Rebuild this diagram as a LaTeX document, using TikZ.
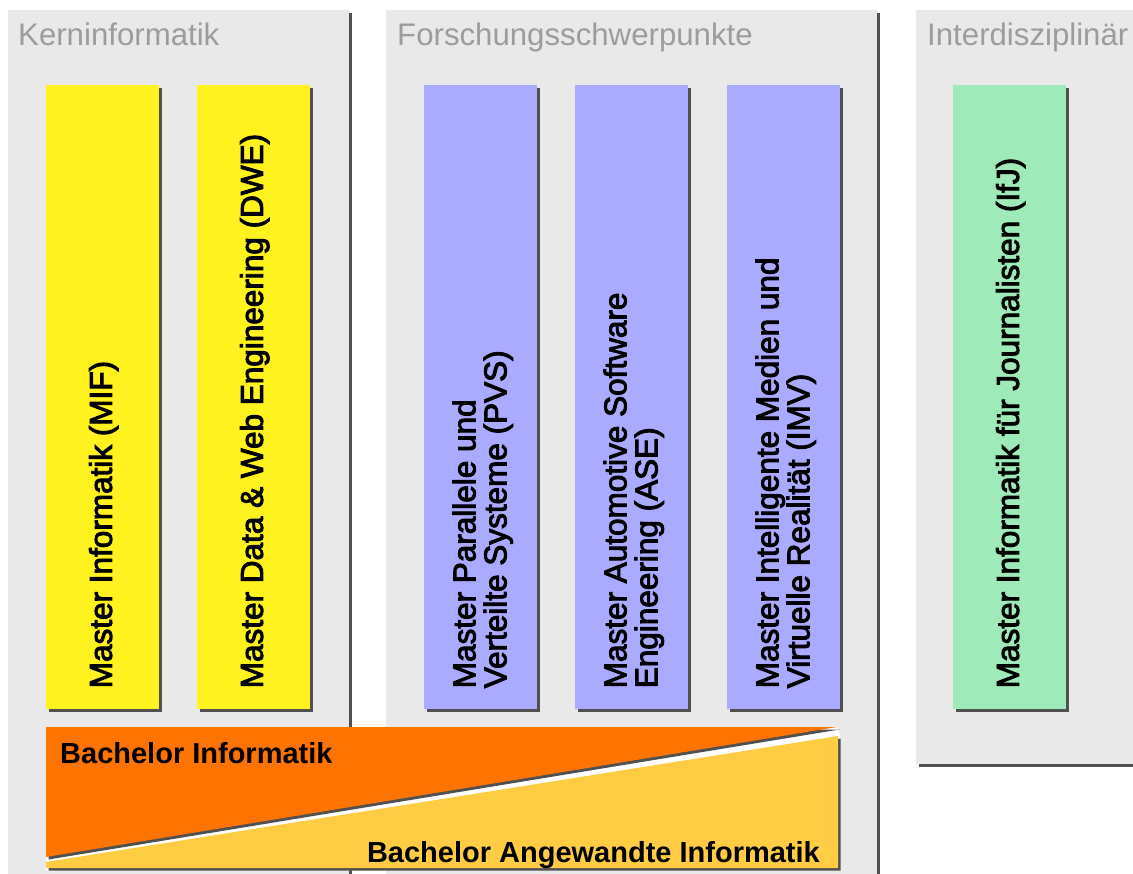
\documentclass[tikz,border=0pt]{standalone}
\usepackage{fontspec}
\setmainfont{Liberation Sans}
\newfontfamily\heavyfont{Liberation Sans}[FakeBold=3]
\usetikzlibrary{shadows}

\definecolor{panelgray}{HTML}{E9E9E9}
\definecolor{titlegray}{HTML}{9C9C9C}
\definecolor{shadowgray}{HTML}{505050}
\definecolor{coreyellow}{HTML}{FFF21F}
\definecolor{researchblue}{HTML}{AAAAFF}
\definecolor{intergreen}{HTML}{9EEAB9}
\definecolor{bscorange}{HTML}{FF7300}
\definecolor{bscyellow}{HTML}{FFCC44}

\begin{document}
\begin{tikzpicture}[x=1pt,y=-1pt,
        shade/.style={drop shadow={shadow xshift=2.5pt,shadow yshift=-2.5pt,opacity=1,fill=shadowgray}},
        panel/.style={shade,fill=panelgray,inner sep=0pt,anchor=north west,minimum width=#1},
        title/.style={anchor=base west,inner sep=0pt,text=titlegray,font=\fontsize{31.2pt}{32pt}\selectfont},
        course/.style={shade,inner sep=0pt,anchor=north west,minimum width=113pt,minimum height=624pt,fill=#1},
        coursetext/.style={rotate=90,anchor=west,inner sep=0pt,align=left,font=\heavyfont\fontsize{31.5pt}{31pt}\selectfont},
        bachelor/.style={inner sep=0pt,font=\bfseries\fontsize{29pt}{30pt}\selectfont}]
    \clip (0,0) rectangle (1133,874);
    \fill[white] (0,0) rectangle (1133,874);

    % the three areas
    \node[panel=341pt,minimum height=900pt] (kern) at (8,10) {};
    \node[panel=491pt,minimum height=900pt] (forschung) at (386,10) {};
    \node[panel=240pt,minimum height=754pt] (inter) at (916,10) {};
    \node[title] (kerntitle) at (18,46) {Kerninformatik};
    \node[title] (forschungtitle) at (397,46) {Forschungsschwerpunkte};
    \node[title] (intertitle) at (927,46) {Interdisziplinär};

    % master programmes
    \node[course=coreyellow] (mif) at (46,85) {};
    \node[course=coreyellow] (dwe) at (197,85) {};
    \node[course=researchblue] (pvs) at (424,85) {};
    \node[course=researchblue] (ase) at (575,85) {};
    \node[course=researchblue] (imv) at (727,85) {};
    \node[course=intergreen] (ifj) at (953,85) {};

    \node[coursetext] (mif text) at ([xshift=1pt,yshift=21pt]mif.south) {Master Informatik (MIF)};
    \node[coursetext] (dwe text) at ([xshift=1pt,yshift=21pt]dwe.south) {Master Data \& Web Engineering (DWE)};
    \node[coursetext] (pvs text) at ([xshift=2pt,yshift=21pt]pvs.south) {Master Parallele und\\Verteilte Systeme (PVS)};
    \node[coursetext] (ase text) at ([xshift=2pt,yshift=21pt]ase.south) {Master Automotive Software\\Engineering (ASE)};
    \node[coursetext] (imv text) at ([xshift=2pt,yshift=21pt]imv.south) {Master Intelligente Medien und\\Virtuelle Realität (IMV)};
    \node[coursetext] (ifj text) at ([xshift=1pt,yshift=21pt]ifj.south) {Master Informatik für Journalisten (IfJ)};

    % bachelor wedges
    \fill[white] (46,857) -- (837,727) -- (840,736) -- (840,870) -- (46,870) -- cycle;
    \fill[shade,bscorange] (46,727) -- (837,727) -- (46,857) -- cycle;
    \fill[shade,bscyellow] (46,862) -- (838,736) -- (838,868) -- (46,868) -- cycle;
    \node[bachelor,anchor=base west] (bi) at (60,763) {Bachelor Informatik};
    \node[bachelor,anchor=base east] (bai) at (820,862) {Bachelor Angewandte Informatik};
\end{tikzpicture}
\end{document}
